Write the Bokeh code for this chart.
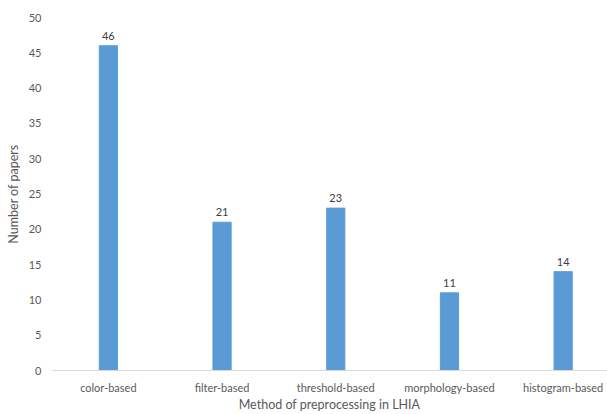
from bokeh.plotting import figure
from bokeh.models import ColumnDataSource, Range1d, FixedTicker
from bokeh.core.properties import value
from bokeh.embed import file_html
from bokeh.resources import INLINE

categories = ["color-based", "filter-based", "threshold-based", "morphology-based", "histogram-based"]
papers = [46, 21, 23, 11, 14]
y_ticks = [0, 5, 10, 15, 20, 25, 30, 35, 40, 45, 50]

xs = list(range(len(categories)))
src = ColumnDataSource(dict(x=xs, top=papers, lab=[str(v) for v in papers]))

FONT = "Lato"
p = figure(width=607, height=414, output_backend="svg", toolbar_location=None,
           x_range=Range1d(-0.5, 4.39), y_range=Range1d(0, 50),
           min_border_left=51, min_border_right=0, min_border_top=17, min_border_bottom=0)
p.outline_line_color = None
p.xgrid.grid_line_color = None
p.ygrid.grid_line_color = None

p.vbar(x="x", top="top", width=0.16, source=src, color="#5b9bd5")
p.text(x="x", y="top", text="lab", source=src, text_align="center", text_baseline="bottom",
       y_offset=-6, text_font=value(FONT), text_font_size="11px", text_color="#404040")

p.xaxis.ticker = FixedTicker(ticks=xs)
p.xaxis.major_label_overrides = {i: c for i, c in enumerate(categories)}
p.xaxis.axis_line_color = "#d9d9d9"
p.xaxis.major_tick_line_color = None
p.xaxis.minor_tick_line_color = None
p.xaxis.major_tick_in = 0
p.xaxis.major_tick_out = 0
p.xaxis.major_label_standoff = 10
p.xaxis.axis_label = "Method of preprocessing in LHIA"
p.xaxis.axis_label_standoff = 0

p.yaxis.ticker = FixedTicker(ticks=y_ticks)
p.yaxis.axis_line_color = None
p.yaxis.major_tick_line_color = None
p.yaxis.minor_tick_line_color = None
p.yaxis.major_tick_in = 0
p.yaxis.major_tick_out = 0
p.yaxis.major_label_standoff = 10
p.yaxis.axis_label = "Number of papers"
p.yaxis.axis_label_standoff = 5

for ax in (p.xaxis, p.yaxis):
    ax.major_label_text_font = FONT
    ax.major_label_text_font_size = "11px"
    ax.major_label_text_color = "#595959"
    ax.axis_label_text_font = FONT
    ax.axis_label_text_font_size = "12.5px"
    ax.axis_label_text_font_style = "normal"
    ax.axis_label_text_color = "#595959"

open("out.html", "w").write(file_html(p, INLINE))
